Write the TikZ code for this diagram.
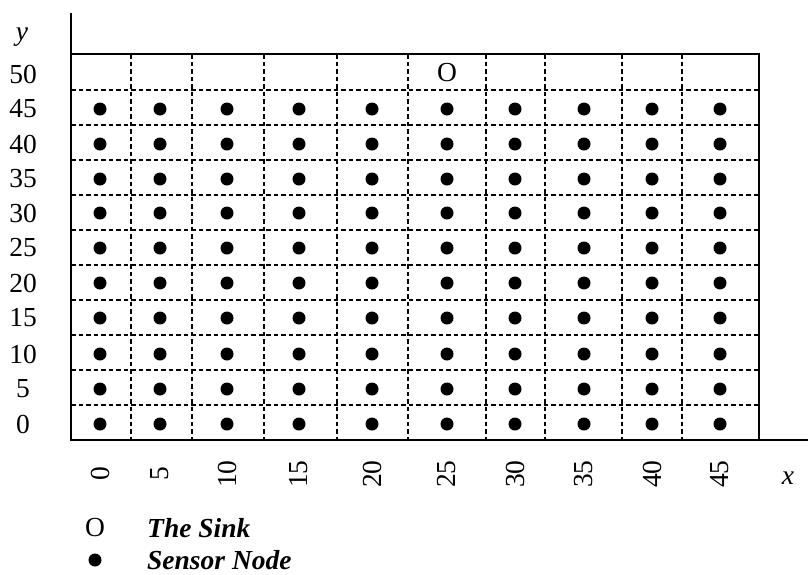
\documentclass[tikz,border=0pt]{standalone}
\usepackage{fontspec}
\setmainfont{Liberation Serif}
\usetikzlibrary{positioning}

\begin{document}
\begin{tikzpicture}[
  x=1pt, y=-1pt,
  font=\fontsize{27.5}{32}\selectfont,
  sensor/.style={circle, fill=black, inner sep=0pt, minimum size=13pt},
  label text/.style={inner sep=0pt},
  cell line/.style={line width=1.4pt, dash pattern=on 4.5pt off 3pt},
  axis line/.style={line width=1.8pt},
  node distance=6pt and 40pt
]
\useasboundingbox (0,0) rectangle (808,574);

% field border and axes
\draw[axis line] (71,13) -- (71,440) -- (808,440);
\draw[axis line] (71,54) -- (759,54) -- (759,440);

% dashed cells
\foreach \ly in {90,125,160,195,230,265,300,335,370,405}
  \draw[cell line] (71,\ly) -- (759,\ly);
\foreach \lx in {131,192,264,337,408,486,545,622,682}
  \draw[cell line] (\lx,54) -- (\lx,440);

% sensor nodes and x labels
\foreach \px/\xv in {100/0,160/5,227/10,299/15,372/20,447/25,515/30,584/35,652/40,720/45} {
  \foreach \py/\yv in {424/0,389/5,354/10,318/15,283/20,248/25,213/30,179/35,144/40,109/45}
    \node[sensor] (s-\xv-\yv) at (\px,\py) {};
  \node[label text, rotate=90] (xlab-\xv) at (\px,474) {\xv};
}

% y labels
\foreach \py/\yv in {424/0,389/5,354/10,318/15,283/20,248/25,213/30,179/35,144/40,109/45,74/50}
  \node[label text] (ylab-\yv) at (23,\py) {\yv};

\node[label text] (yname) at (22,37) {\textit{y}};
\node[label text] (xname) at (788,478) {\textit{x}};

% the sink
\node[label text] (sink) at (447,73) {O};

% legend
\node[label text] (sinkkey) at (95,528) {O};
\node[label text, anchor=west] (sinktext) at (147,528) {\textbf{\textit{The Sink}}};
\node[sensor] (sensorkey) at (95,560) {};
\node[label text, anchor=west] (sensortext) at (147,560) {\textbf{\textit{Sensor Node}}};
\end{tikzpicture}
\end{document}
